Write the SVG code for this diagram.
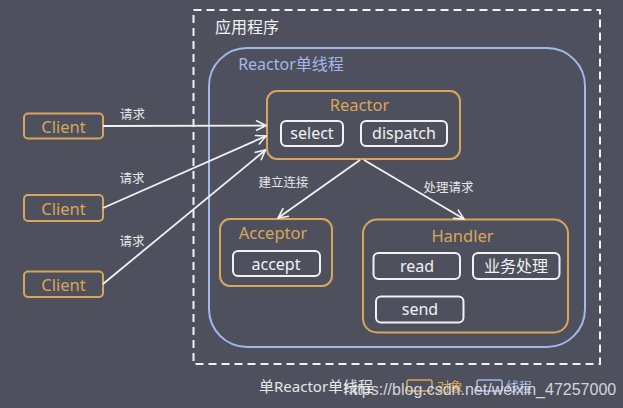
<svg xmlns="http://www.w3.org/2000/svg" width="623" height="408" viewBox="0 0 623 408">
<defs>
<marker id="arr" viewBox="0 0 12 12" refX="11" refY="6" markerWidth="12" markerHeight="12" markerUnits="userSpaceOnUse" orient="auto">
<path d="M1,1 L11,6 L1,11" fill="none" stroke="#f2f2f2" stroke-width="1.6"/>
</marker>
</defs>
<style>
text{font-family:"Noto Sans","Noto Sans CJK SC",sans-serif;text-anchor:middle;dominant-baseline:central}
.obj{fill:none;stroke:#d9a55b;stroke-width:2}
.obt{fill:#d9a55b;font-size:16.5px}
.fn{fill:none;stroke:#f2f2f2;stroke-width:2}
.fnt{fill:#f2f2f2;font-size:16px}
.lbl{fill:#e6e6e6;font-size:12.5px}
.con{fill:none;stroke:#f2f2f2;stroke-width:1.8;marker-end:url(#arr)}
</style>
<rect width="623" height="408" fill="#4e515d"/>
<g id="app">
<rect x="193.5" y="10" width="406.5" height="354" fill="none" stroke="#f2f2f2" stroke-width="2" stroke-dasharray="8,5"/>
<text x="247" y="27" style="fill:#f2f2f2;font-size:16px">应用程序</text>
</g>
<g id="thread">
<rect x="209" y="48" width="376" height="299" rx="38" fill="none" stroke="#a3b7ea" stroke-width="2"/>
<text x="291" y="63.5" style="fill:#a3b7ea;font-size:16px">Reactor单线程</text>
</g>
<g id="reactor">
<rect class="obj" x="267" y="91" width="193" height="68" rx="10"/>
<text class="obt" x="359.5" y="104">Reactor</text>
<rect class="fn" x="281" y="121" width="62" height="25" rx="5"/>
<text class="fnt" x="312" y="133">select</text>
<rect class="fn" x="361" y="121" width="86" height="25" rx="5"/>
<text class="fnt" x="404" y="133">dispatch</text>
</g>
<g id="acceptor">
<rect class="obj" x="220" y="219" width="112" height="67" rx="10"/>
<text class="obt" x="273" y="232">Acceptor</text>
<rect class="fn" x="233" y="251" width="87" height="25" rx="5"/>
<text class="fnt" x="276" y="263.5">accept</text>
</g>
<g id="handler">
<rect class="obj" x="363" y="219.5" width="205" height="113" rx="14"/>
<text class="obt" x="462.5" y="235.5">Handler</text>
<rect class="fn" x="373.5" y="253" width="86.5" height="26" rx="5"/>
<text class="fnt" x="417" y="266">read</text>
<rect class="fn" x="473" y="253" width="86.5" height="26" rx="5"/>
<text class="fnt" x="516" y="266">业务处理</text>
<rect class="fn" x="376" y="296.5" width="87.5" height="26" rx="5"/>
<text class="fnt" x="420" y="309">send</text>
</g>
<g id="client1">
<rect class="obj" x="24" y="113.5" width="79" height="25" rx="4"/>
<text class="obt" x="63.5" y="126">Client</text>
</g>
<g id="client2">
<rect class="obj" x="24" y="195" width="79" height="26" rx="4"/>
<text class="obt" x="63.5" y="208">Client</text>
</g>
<g id="client3">
<rect class="obj" x="24" y="271.5" width="79" height="25.5" rx="4"/>
<text class="obt" x="63.5" y="284">Client</text>
</g>
<g id="connectors">
<line class="con" x1="103" y1="126" x2="266" y2="125.5"/>
<line class="con" x1="103" y1="208" x2="266" y2="136"/>
<line class="con" x1="103" y1="284" x2="265.5" y2="150"/>
<line class="con" x1="360" y1="160" x2="278" y2="218"/>
<line class="con" x1="364" y1="160" x2="464" y2="219"/>
<text class="lbl" x="132.5" y="114.5">请求</text>
<text class="lbl" x="132" y="178.5">请求</text>
<text class="lbl" x="132" y="241.5">请求</text>
<text class="lbl" x="283.5" y="182.5">建立连接</text>
<text class="lbl" x="448.5" y="187">处理请求</text>
</g>
<g id="legend">
<text x="259" y="386" style="text-anchor:start;fill:#e6e6e6;font-size:15px">单Reactor单线程</text>
<rect x="407" y="380" width="25" height="11" rx="2" fill="none" stroke="#d9a55b" stroke-width="1.5"/>
<text x="437" y="386" style="text-anchor:start;fill:#d9a55b;font-size:13px">对象</text>
<rect x="477" y="380" width="25" height="11" rx="2" fill="none" stroke="#a3b7ea" stroke-width="1.5"/>
<text x="506" y="386" style="text-anchor:start;fill:#a3b7ea;font-size:13px">线程</text>
<text x="344" y="389" style="text-anchor:start;fill:#eeeeee;fill-opacity:0.85;font-family:'Liberation Sans',sans-serif;font-size:16px">https://blog.csdn.net/weixin_47257000</text>
</g>
</svg>
